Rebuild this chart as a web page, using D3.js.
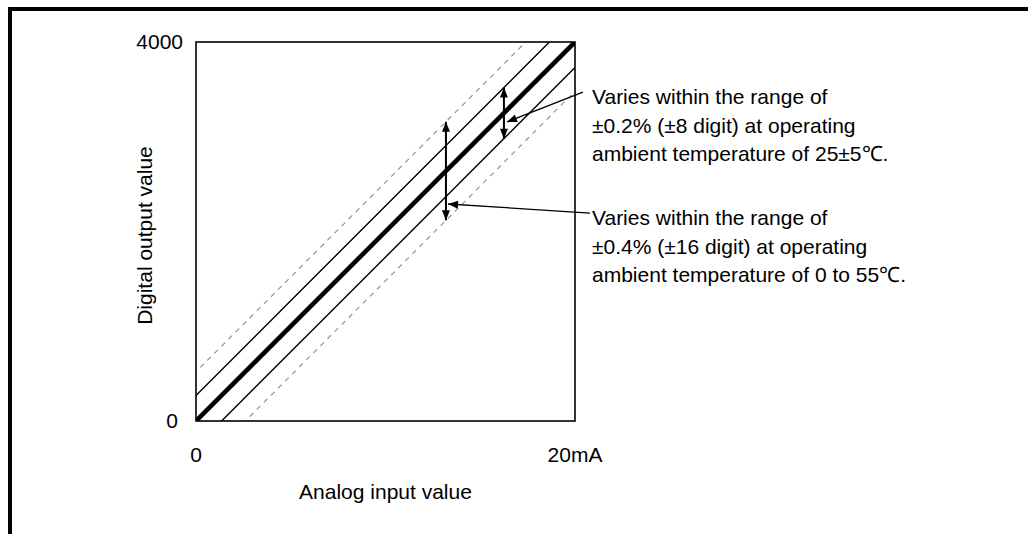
<!DOCTYPE html>
<html>
<head>
<meta charset="utf-8">
<script src="https://cdn.jsdelivr.net/npm/d3@7"></script>
<style>
  body { margin: 0; background: #fff; }
  text { font-family: "Liberation Sans", Arial, sans-serif; font-size: 21px; fill: #000; }
</style>
</head>
<body>
<div id="chart"></div>
<script>
const W = 1028, H = 534,
      margin = {top: 42, left: 196},
      plotSize = 379;

// axis ranges and tick labels
const xDomain = [0, 20],
      yDomain = [0, 4000],
      xTickVals = [0, 20],
      xTickText = ["0", "20mA"],
      yTickVals = [0, 4000],
      yTickText = ["0", "4000"];

// characteristic lines: offset from ideal line (digits, schematic)
const bandOffsets = [-520, -270, 0, 270, 520],
      bandKinds = ["dash", "thin", "thick", "thin", "dash"];

// error-range arrows: x position (mA) and half span (digits)
const arrowX = [16.25, 13.19],
      arrowSpan = [270, 520];

// leader lines: [from (near text), to (arrowhead)] in data units
const leaders = [
  [[20.42, 3472], [16.41, 3156]],
  [[20.79, 2195], [13.30, 2290]]
];

const noteLines = [
  ["Varies within the range of", "±0.2% (±8 digit) at operating", "ambient temperature of 25±5℃."],
  ["Varies within the range of", "±0.4% (±16 digit) at operating", "ambient temperature of 0 to 55℃."]
];
const noteTop = [104, 225];

const svg = d3.select("#chart").append("svg")
  .attr("width", W).attr("height", H);

svg.append("rect")
  .attr("x", 10).attr("y", 9)
  .attr("width", 1100).attr("height", 600)
  .attr("fill", "none").attr("stroke", "#000").attr("stroke-width", 4);

const defs = svg.append("defs");
defs.append("marker")
  .attr("id", "head")
  .attr("viewBox", "0 0 10 8")
  .attr("refX", 10).attr("refY", 4)
  .attr("markerWidth", 11).attr("markerHeight", 8)
  .attr("markerUnits", "userSpaceOnUse")
  .attr("orient", "auto-start-reverse")
  .append("path").attr("d", "M0,0L10,4L0,8Z").attr("fill", "#000");

defs.append("clipPath").attr("id", "plotclip")
  .append("rect").attr("width", plotSize).attr("height", plotSize);

const g = svg.append("g").attr("transform", `translate(${margin.left},${margin.top})`);

const x = d3.scaleLinear().domain(xDomain).range([0, plotSize]);
const y = d3.scaleLinear().domain(yDomain).range([plotSize, 0]);

const slope = (yDomain[1] - yDomain[0]) / (xDomain[1] - xDomain[0]);
const line = d3.line().x(d => x(d[0])).y(d => y(d[1]));

const lines = g.append("g").attr("clip-path", "url(#plotclip)");
bandOffsets.forEach((off, i) => {
  const kind = bandKinds[i];
  lines.append("path")
    .datum([[-5, -5 * slope + off], [25, 25 * slope + off]])
    .attr("d", line)
    .attr("fill", "none")
    .attr("stroke", kind === "dash" ? "#8c8c8c" : "#000")
    .attr("stroke-width", kind === "thick" ? 4.5 : kind === "thin" ? 1.4 : 1.1)
    .attr("stroke-dasharray", kind === "dash" ? "5,5" : null);
});

g.append("rect")
  .attr("width", plotSize).attr("height", plotSize)
  .attr("fill", "none").attr("stroke", "#000").attr("stroke-width", 1.6);

// tick labels
xTickVals.forEach((v, i) => {
  g.append("text")
    .attr("x", x(v)).attr("y", plotSize + 41)
    .attr("text-anchor", "middle").text(xTickText[i]);
});
yTickVals.forEach((v, i) => {
  g.append("text")
    .attr("x", v === 0 ? -18 : -13).attr("y", y(v) + 7)
    .attr("text-anchor", "end").text(yTickText[i]);
});

g.append("text")
  .attr("x", plotSize / 2).attr("y", plotSize + 78)
  .attr("text-anchor", "middle").text("Analog input value");

g.append("text")
  .attr("text-anchor", "middle")
  .attr("transform", `translate(-44,${plotSize / 2 + 4})rotate(-90)`)
  .text("Digital output value");

// double arrows
arrowX.forEach((ax, i) => {
  const c = ax * slope;
  g.append("line")
    .attr("x1", x(ax)).attr("x2", x(ax))
    .attr("y1", y(c + arrowSpan[i])).attr("y2", y(c - arrowSpan[i]))
    .attr("stroke", "#000").attr("stroke-width", 2)
    .attr("marker-start", "url(#head)").attr("marker-end", "url(#head)");
});

// leader lines
leaders.forEach(l => {
  g.append("line")
    .attr("x1", x(l[0][0])).attr("y1", y(l[0][1]))
    .attr("x2", x(l[1][0])).attr("y2", y(l[1][1]))
    .attr("stroke", "#000").attr("stroke-width", 1.3)
    .attr("marker-end", "url(#head)");
});

// notes
noteLines.forEach((lns, i) => {
  lns.forEach((t, j) => {
    svg.append("text")
      .attr("x", 592).attr("y", noteTop[i] + j * 28.5)
      .text(t);
  });
});
</script>
</body>
</html>
